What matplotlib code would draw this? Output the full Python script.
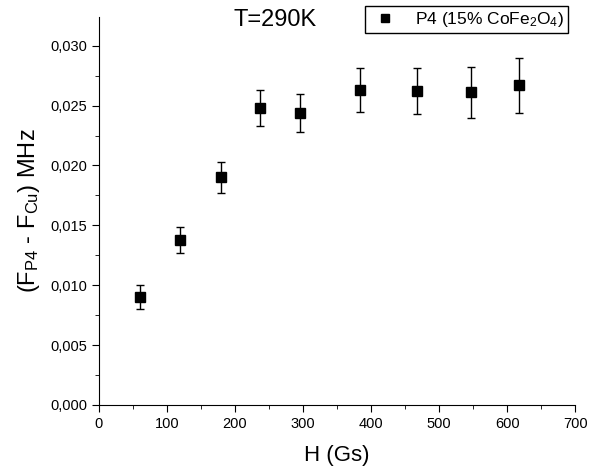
import matplotlib
matplotlib.use("Agg")
import matplotlib.pyplot as plt
from matplotlib.lines import Line2D
from matplotlib.ticker import MultipleLocator, FuncFormatter

plt.rcParams["font.family"] = ["Liberation Sans", "DejaVu Sans"]
plt.rcParams["mathtext.fontset"] = "custom"
plt.rcParams["mathtext.rm"] = "Liberation Sans"
plt.rcParams["mathtext.it"] = "Liberation Sans:italic"

# field (Gs) and frequency shift (MHz)
H = [60, 119, 179, 237, 296, 384, 468, 547, 618]
dF = [0.0090, 0.0138, 0.0190, 0.0248, 0.0244, 0.0263, 0.0262, 0.0261, 0.0267]
err_lo = [0.0080, 0.0127, 0.0177, 0.0233, 0.0228, 0.0245, 0.0243, 0.0240, 0.0244]
err_hi = [0.0100, 0.0149, 0.0203, 0.0263, 0.0260, 0.0281, 0.0281, 0.0282, 0.0290]

yerr = [[v - lo for v, lo in zip(dF, err_lo)], [hi - v for v, hi in zip(dF, err_hi)]]

fig = plt.figure(figsize=(5.96, 4.72), dpi=100)
ax = fig.add_axes([0.166, 0.142, 0.799, 0.822])

ax.errorbar(H, dF, yerr=yerr, fmt="s", color="black", ms=7, elinewidth=1,
            capsize=3, capthick=1)

ax.set_xlim(0, 700)
ax.set_ylim(0, 0.0324)
ax.xaxis.set_major_locator(MultipleLocator(100))
ax.xaxis.set_minor_locator(MultipleLocator(50))
ax.yaxis.set_major_locator(MultipleLocator(0.005))
ax.yaxis.set_minor_locator(MultipleLocator(0.0025))
ax.yaxis.set_major_formatter(FuncFormatter(lambda v, p: f"{v:.3f}".replace(".", ",")))

for s in ["top", "right"]:
    ax.spines[s].set_visible(False)
ax.tick_params(which="both", direction="out", labelsize=10.5)
ax.tick_params(which="major", length=5)
ax.tick_params(which="minor", length=3)

ax.set_xlabel("H (Gs)", fontsize=16, labelpad=10)
ax.set_ylabel(r"(F$_{\rm P4}$ - F$_{\rm Cu}$) MHz", fontsize=17, labelpad=6)

fig.text(0.462, 0.958, "T=290K", fontsize=17, ha="center", va="center")

handle = Line2D([], [], marker="s", color="black", ls="none", ms=6)
fig.legend([handle], ["P4 (15% CoFe$_2$O$_4$)"], loc="upper right",
           bbox_to_anchor=(0.953, 0.988), fontsize=12.5, frameon=True,
           fancybox=False, edgecolor="black", framealpha=1, handletextpad=0.8,
           borderpad=0.25, handlelength=1.8, borderaxespad=0)

fig.savefig("out.png", dpi=100)
